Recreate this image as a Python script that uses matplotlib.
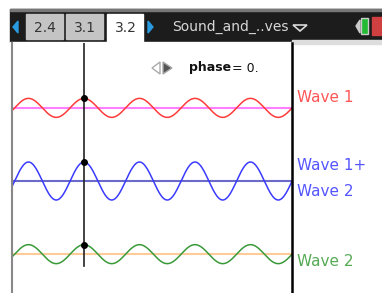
import numpy as np
import matplotlib
matplotlib.use("Agg")
import matplotlib.pyplot as plt
from matplotlib.patches import Rectangle, Polygon

# wave settings
labels = ["Wave 1", "Wave 1+\nWave 2", "Wave 2"]
amp1 = 1.0
amp2 = 1.0
phase = 0.0
offsets = [7.7, 0.0, -7.7]
tabs = ["2.4", "3.1", "3.2"]
title = "Sound_and_..ves"

W, H = 382, 293
fig = plt.figure(figsize=(W / 100, H / 100), dpi=100)

# screen chrome in pixel coordinates
ax0 = fig.add_axes([0, 0, 1, 1])
ax0.set_xlim(0, W)
ax0.set_ylim(H, 0)
ax0.axis("off")

ax0.add_patch(Rectangle((10, 9), W - 10, 33, color="#1c1c1c", zorder=1))
ax0.add_patch(Rectangle((10, 9), W - 10, 2, color="#777777", zorder=2))
ax0.add_patch(Rectangle((10, 42), W - 10, H - 42, color="white", zorder=1))
ax0.add_patch(Rectangle((292, 40), W - 292, 4, color="#dddddd", zorder=2))

tab_x = [26, 66, 107]
for i, t in enumerate(tabs):
    active = i == 2
    h = 29 if active else 25
    ax0.add_patch(Rectangle((tab_x[i], 14), 37 if not active else 36, h,
                            color="white" if active else "#c4c4c4", zorder=3))
    ax0.text(tab_x[i] + 18.5, 28, t, ha="center", va="center", fontsize=10,
             color="#333333", zorder=4)

ax0.add_patch(Polygon([[18, 21], [18, 33], [13, 27]], color="#2a9be0", zorder=4))
ax0.add_patch(Polygon([[148, 21], [148, 33], [153, 27]], color="#2a9be0", zorder=4))
ax0.text(172, 27, title, ha="left", va="center", fontsize=10, color="#d8d8d8", zorder=4)
ax0.add_patch(Polygon([[293, 25], [307, 25], [300, 31]], closed=True, fill=False,
                      edgecolor="#d8d8d8", lw=1.2, zorder=4))
ax0.add_patch(Polygon([[356, 26], [360, 20], [360, 33]], color="#cccccc", zorder=4))
ax0.add_patch(Rectangle((361, 18), 7, 16, facecolor="#22bb33", edgecolor="#cccccc",
                        lw=1, zorder=4))
ax0.add_patch(Rectangle((372, 17), 10, 18, color="#d04040", zorder=4))

# slider + phase value
ax0.add_patch(Polygon([[160, 62], [160, 74], [152, 68]], closed=True, fill=False,
                      edgecolor="#aaaaaa", lw=1, zorder=4))
ax0.add_patch(Polygon([[163, 62], [163, 74], [172, 68]], closed=True,
                      facecolor="#555555", edgecolor="#aaaaaa", lw=1, zorder=4))
ax0.text(189, 68, "phase", ha="left", va="center", fontsize=9, fontweight="bold",
         color="#111111", zorder=4)
ax0.text(232, 68, "= 0.", ha="left", va="center", fontsize=9, color="#111111", zorder=4)

# labels on the right
ax0.text(297, 98, "Wave 1", ha="left", va="center", fontsize=11, color="#ff5555")
ax0.text(297, 166, "Wave 1+", ha="left", va="center", fontsize=11, color="#5555ff")
ax0.text(297, 192, "Wave 2", ha="left", va="center", fontsize=11, color="#5555ff")
ax0.text(297, 261, "Wave 2", ha="left", va="center", fontsize=11, color="#55aa55")

# graph area
ax = fig.add_axes([12 / W, 0, 280 / W, 250 / H])
ax.set_xlim(-1.297, 3.748)
ax.set_ylim(-11.79, 14.53)
ax.set_xticks([])
ax.set_yticks([])
for s in ["top", "bottom"]:
    ax.spines[s].set_visible(False)
ax.spines["left"].set_color("#888888")
ax.spines["left"].set_linewidth(1.5)
ax.spines["right"].set_color("black")
ax.spines["right"].set_linewidth(1.8)
ax.patch.set_alpha(0)

x = np.linspace(-1.297, 3.748, 600)
w1 = amp1 * np.cos(2 * np.pi * x)
w2 = amp2 * np.cos(2 * np.pi * x + phase)
waves = [w1, w1 + w2, w2]
colors = ["#ff3b3b", "#3b3bff", "#3a9a3a"]
base_colors = ["#ff80ff", "#6a6ac8", "#ffcc99"]

for y, off, c, bc in zip(waves, offsets, colors, base_colors):
    ax.axhline(off, color=bc, lw=1.5, zorder=1)
    ax.plot(x, y + off, color=c, lw=1.1, zorder=2)
    ax.plot(0, y[np.argmin(np.abs(x))] + off, "o", color="black", ms=4, zorder=4)

ax.plot([0, 0], [-8.9, 14.53], color="#222222", lw=1.2, zorder=3)

fig.savefig("out.png", dpi=100)
